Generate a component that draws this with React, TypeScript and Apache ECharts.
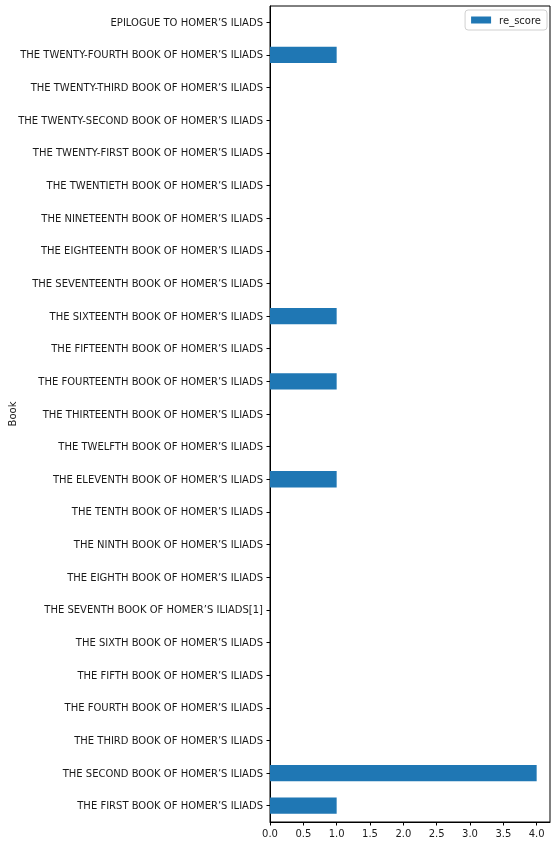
import React, { useEffect, useRef } from "react";
import * as echarts from "echarts";

const books: string[] = [
  "THE FIRST BOOK OF HOMER’S ILIADS",
  "THE SECOND BOOK OF HOMER’S ILIADS",
  "THE THIRD BOOK OF HOMER’S ILIADS",
  "THE FOURTH BOOK OF HOMER’S ILIADS",
  "THE FIFTH BOOK OF HOMER’S ILIADS",
  "THE SIXTH BOOK OF HOMER’S ILIADS",
  "THE SEVENTH BOOK OF HOMER’S ILIADS[1]",
  "THE EIGHTH BOOK OF HOMER’S ILIADS",
  "THE NINTH BOOK OF HOMER’S ILIADS",
  "THE TENTH BOOK OF HOMER’S ILIADS",
  "THE ELEVENTH BOOK OF HOMER’S ILIADS",
  "THE TWELFTH BOOK OF HOMER’S ILIADS",
  "THE THIRTEENTH BOOK OF HOMER’S ILIADS",
  "THE FOURTEENTH BOOK OF HOMER’S ILIADS",
  "THE FIFTEENTH BOOK OF HOMER’S ILIADS",
  "THE SIXTEENTH BOOK OF HOMER’S ILIADS",
  "THE SEVENTEENTH BOOK OF HOMER’S ILIADS",
  "THE EIGHTEENTH BOOK OF HOMER’S ILIADS",
  "THE NINETEENTH BOOK OF HOMER’S ILIADS",
  "THE TWENTIETH BOOK OF HOMER’S ILIADS",
  "THE TWENTY-FIRST BOOK OF HOMER’S ILIADS",
  "THE TWENTY-SECOND BOOK OF HOMER’S ILIADS",
  "THE TWENTY-THIRD BOOK OF HOMER’S ILIADS",
  "THE TWENTY-FOURTH BOOK OF HOMER’S ILIADS",
  "EPILOGUE TO HOMER’S ILIADS",
];

const reScore: number[] = [1, 4, 0, 0, 0, 0, 0, 0, 0, 0, 1, 0, 0, 1, 0, 1, 0, 0, 0, 0, 0, 0, 0, 1, 0];

const xTicks: number[] = [0, 0.5, 1, 1.5, 2, 2.5, 3, 3.5, 4];

const FONT = "DejaVu Sans";
const TEXT = "#1a1a1a";

export default function App() {
  const ref = useRef<HTMLDivElement>(null);

  useEffect(() => {
    if (!ref.current) return;
    const chart = echarts.init(ref.current, undefined, { renderer: "svg" });
    chart.setOption({
      animation: false,
      textStyle: { fontFamily: FONT },
      grid: {
        left: 270,
        right: 7,
        top: 6,
        bottom: 24,
        show: true,
        borderColor: "#000",
        borderWidth: 1,
        backgroundColor: "transparent",
      },
      legend: {
        right: 10,
        top: 10,
        orient: "vertical",
        icon: "rect",
        itemWidth: 20,
        itemHeight: 7,
        itemGap: 4,
        padding: [5, 6, 5, 6],
        borderColor: "#d0d0d0",
        borderWidth: 1,
        borderRadius: 3,
        textStyle: { fontFamily: FONT, fontSize: 10, color: TEXT, padding: [0, 0, 0, 3] },
        data: ["re_score"],
      },
      xAxis: {
        type: "value",
        min: 0,
        max: 4.2,
        interval: 0.5,
        splitLine: { show: false },
        axisLine: { show: true, lineStyle: { color: "#000" } },
        axisTick: {
          show: true,
          length: 3.5,
          lineStyle: { color: "#000" },
          customValues: xTicks,
        },
        axisLabel: {
          margin: 6,
          fontFamily: FONT,
          fontSize: 10,
          color: TEXT,
          customValues: xTicks,
          formatter: (v: number) => v.toFixed(1),
        },
      },
      yAxis: {
        type: "category",
        data: books,
        axisLine: { show: true, lineStyle: { color: "#000" } },
        axisTick: { show: true, alignWithLabel: true, length: 3.5, lineStyle: { color: "#000" } },
        axisLabel: {
          margin: 7,
          interval: 0,
          fontFamily: FONT,
          fontSize: 10,
          color: TEXT,
        },
        splitLine: { show: false },
      },
      graphic: [
        {
          type: "text",
          x: 12,
          y: 414,
          rotation: Math.PI / 2,
          style: {
            text: "Book",
            fontFamily: FONT,
            fontSize: 10,
            fill: TEXT,
            textAlign: "center",
            textVerticalAlign: "middle",
          },
        },
      ],
      series: [
        {
          name: "re_score",
          type: "bar",
          data: reScore,
          barWidth: "50%",
          itemStyle: { color: "#1f77b4" },
        },
      ],
    });
    return () => chart.dispose();
  }, []);

  return (
    <div
      ref={ref}
      style={{ position: "fixed", left: 0, top: 0, width: 557, height: 846 }}
    />
  );
}
